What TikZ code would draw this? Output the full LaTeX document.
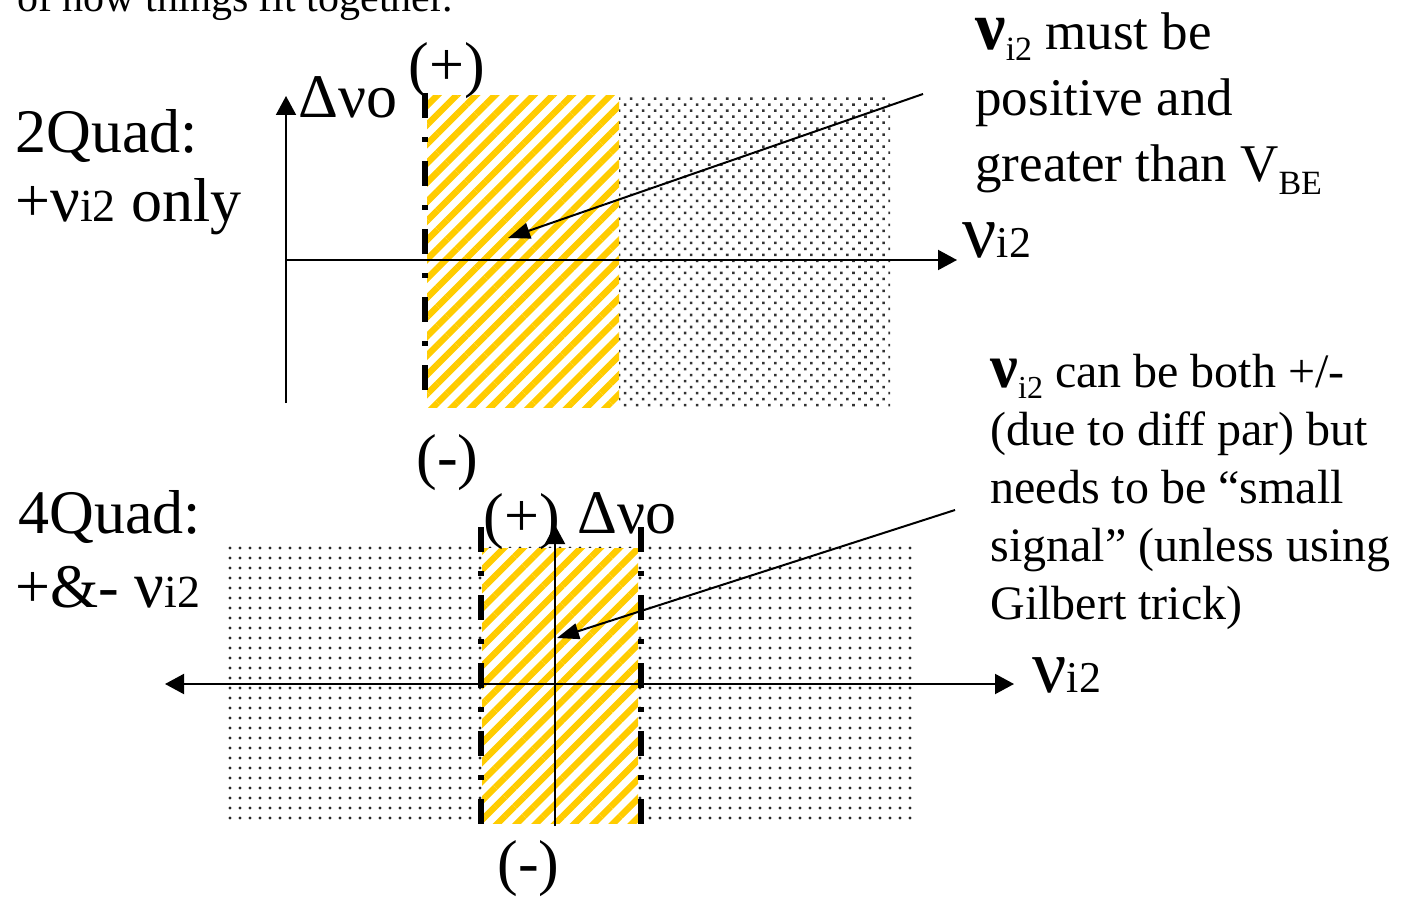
\documentclass[tikz,border=0pt]{standalone}
\usepackage{fontspec}
\setmainfont{Liberation Serif}
\usetikzlibrary{arrows.meta,patterns.meta}

\definecolor{hatchyellow}{HTML}{FFCC00}
% nu with the "i2" index, on the line or lowered
\newcommand{\nui}[2]{{\fontsize{#1}{#1}\selectfont ν}{\fontsize{#2}{#2}\selectfont i2}}
\newcommand{\nusub}[2]{{\fontsize{#1}{#1}\selectfont\bfseries ν}\raisebox{-5.5pt}{\fontsize{#2}{#2}\selectfont i2}}

\begin{document}
\begin{tikzpicture}[
  x=0.5pt, y=-0.5pt,
  lbl/.style={anchor=base west, inner sep=0pt, font=\fontsize{31}{36}\selectfont},
  note/.style={anchor=base west, inner sep=0pt, align=left},
  axis/.style={line width=1pt, -{Triangle[length=9.5pt,width=10pt]}},
  axisboth/.style={line width=1pt, {Triangle[length=9.5pt,width=10pt]}-{Triangle[length=9.5pt,width=10pt]}},
  callout/.style={line width=1pt, -{Triangle[length=11pt,width=8pt]}},
  dashdot/.style={line width=3pt, dash pattern=on 12.5pt off 9.5pt on 2.5pt off 9.5pt},
  hatchzone/.style={preaction={fill=white}, pattern={Lines[angle=45,distance=6.8pt,line width=3.2pt]}, pattern color=hatchyellow},
  dotfine/.style={pattern={Dots[angle=45,distance=4.25pt,radius=0.9pt]}, pattern color=black!80},
  dotwide/.style={pattern={Dots[distance=5pt,radius=0.85pt]}, pattern color=black!85},
]
  \useasboundingbox (0,0) rectangle (1401,898);
  \clip (0,0) rectangle (1401,898);

  % caption line, cut off by the top edge
  \node[note, font=\fontsize{21}{25}\selectfont] (cap) at (17,12) {of how things fit together.};

  % 2Quad: +vi2 only
  \coordinate (y1b) at (286,403);
  \coordinate (y1t) at (286,96);
  \coordinate (x1l) at (286,260);
  \coordinate (x1r) at (957,260);
  \coordinate (d1t) at (425,93);
  \coordinate (d1b) at (425,407);
  \fill[dotfine] (619,96) rectangle (890,407);
  \fill[hatchzone] (427,96) rectangle (619,407);
  \draw[axis] (x1l) -- (x1r);
  \draw[dashdot] (d1t) -- (d1b);
  \draw[axis] (y1b) -- (y1t);

  \node[lbl] (quad2) at (15,153) {2Quad:};
  \node[lbl] (only2) at (15,222) {+\nui{33}{23} only};
  \node[lbl] (plus1) at (408,86) {(+)};
  \node[lbl] (dvo1) at (298,118) {Δνo};
  \node[lbl] (minus1) at (416,477) {(-)};
  \node[lbl] (vi1) at (962,258) {\nui{38}{22}};
  \node[note, font=\fontsize{26.5}{33}\selectfont] (msg1) at (975,182)
    {\nusub{34}{17} must be\\ positive and\\
     greater than V\raisebox{-6.5pt}{\fontsize{17}{17}\selectfont BE}};
  \coordinate (from1) at (923,94);
  \coordinate (tip1) at (508,238);
  \draw[callout] (from1) -- (tip1);

  % 4Quad: +&- vi2
  \coordinate (x2l) at (165,684);
  \coordinate (x2r) at (1014,684);
  \coordinate (y2b) at (555,826);
  \coordinate (y2t) at (555,525);
  \coordinate (d2t) at (481,527);
  \coordinate (d2b) at (481,825);
  \coordinate (d3t) at (641,527);
  \coordinate (d3b) at (641,825);
  \fill[dotwide] (226,545) rectangle (916,823);
  \fill[hatchzone] (482,548) rectangle (638,823);
  \draw[axisboth] (x2l) -- (x2r);
  \draw[dashdot] (d2t) -- (d2b);
  \draw[dashdot] (d3t) -- (d3b);
  \draw[axis] (y2b) -- (y2t);

  \node[lbl] (quad4) at (18,533) {4Quad:};
  \node[lbl] (both4) at (15,607) {+\&- \nui{33}{23}};
  \node[lbl] (plus2) at (483,536) {(+)};
  \node[lbl] (dvo2) at (577,533) {Δνo};
  \node[lbl] (minus2) at (497,883) {(-)};
  \node[lbl] (vi2) at (1032,692) {\nui{38}{22}};
  \node[note, font=\fontsize{24}{29}\selectfont] (msg2) at (990,619)
    {\nusub{31}{16} can be both +/-\\ (due to diff par) but\\
     needs to be “small\\ signal” (unless using\\ Gilbert trick)};
  \coordinate (from2) at (955,510);
  \coordinate (tip2) at (557,638);
  \draw[callout] (from2) -- (tip2);
\end{tikzpicture}
\end{document}
